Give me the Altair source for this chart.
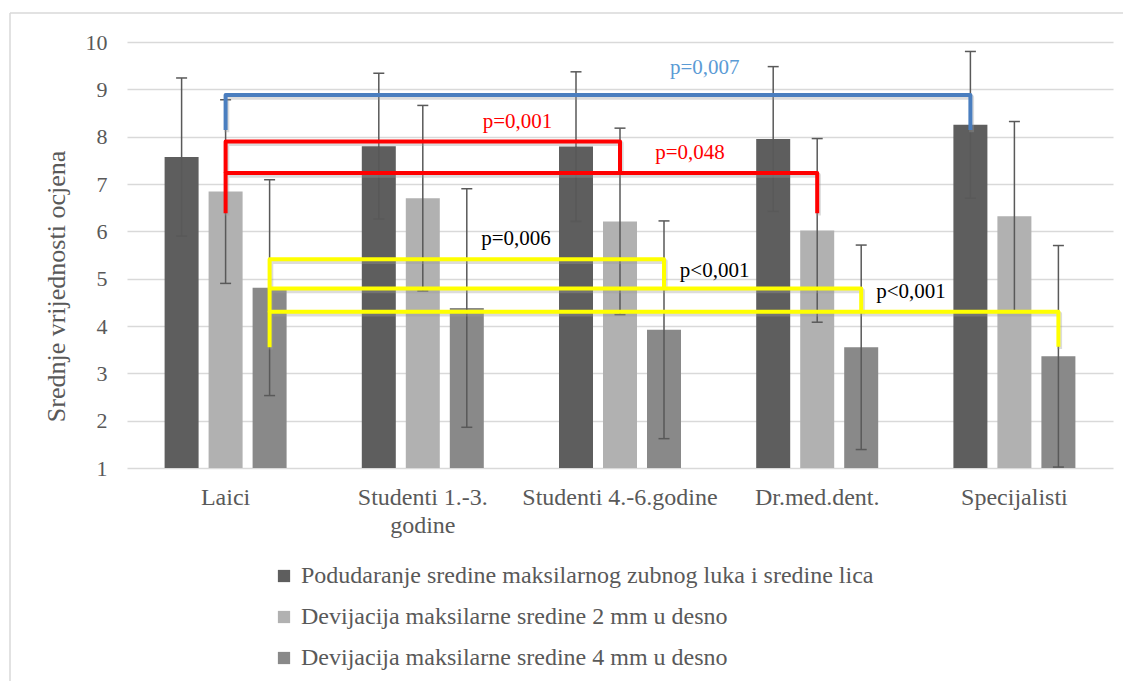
import altair as alt
import pandas as pd

# ---------------- data ----------------
categories = ["Laici", "Studenti 1.-3. godine", "Studenti 4.-6.godine", "Dr.med.dent.", "Specijalisti"]
tick_labels = ["Laici", "Studenti 1.-3.\ngodine", "Studenti 4.-6.godine", "Dr.med.dent.", "Specijalisti"]
series = [
    "Podudaranje sredine maksilarnog  zubnog luka i sredine lica",
    "Devijacija maksilarne sredine 2 mm u desno",
    "Devijacija maksilarne sredine 4 mm u desno",
]
mean_match = [7.57, 7.80, 7.79, 7.95, 8.25]
mean_dev2 = [6.84, 6.70, 6.21, 6.02, 6.32]
mean_dev4 = [4.81, 4.38, 3.92, 3.55, 3.36]
sd_match = [1.67, 1.54, 1.58, 1.53, 1.55]
sd_dev2 = [1.94, 1.96, 1.97, 1.94, 2.00]
sd_dev4 = [2.28, 2.52, 2.30, 2.16, 2.34]

# significance brackets: (cat, series) start, (cat, series) end, y left, y top, y right
bracket_from = [(0, 1), (0, 1), (0, 1), (0, 2), (0, 2), (0, 2)]
bracket_to = [(4, 0), (2, 1), (3, 1), (2, 2), (3, 2), (4, 2)]
bracket_y_left = [8.14, 7.23, 6.38, 4.79, 4.29, 3.55]
bracket_y_top = [8.88, 7.90, 7.23, 5.41, 4.79, 4.30]
bracket_y_right = [8.14, 7.23, 6.38, 4.79, 4.29, 3.56]
bracket_color = ["#4a7ebf", "#ff0000", "#ff0000", "#ffff00", "#ffff00", "#ffff00"]

p_text = ["p=0,007", "p=0,001", "p=0,048", "p=0,006", "p<0,001", "p<0,001"]
p_x = [2.93, 1.98, 2.855, 1.973, 2.98, 3.976]
p_y = [9.45, 8.31, 7.65, 5.83, 5.17, 4.71]
p_color = ["#5b9bd5", "#ff0000", "#ff0000", "#000000", "#000000", "#000000"]

colors = ["#5e5e5e", "#b1b1b1", "#898989"]

# ---------------- layout ----------------
W, H = 986, 426
BAND = W / len(categories)
STEP = 44 / BAND
HALF = 17 / BAND
CAP = 5.5 / BAND
FONT = "Liberation Serif"
GREY = "#595959"

means = [mean_match, mean_dev2, mean_dev4]
sds = [sd_match, sd_dev2, sd_dev4]


def pos(i, j):
    return i + 0.5 + (j - 1) * STEP


rows = []
for i, c in enumerate(categories):
    for j, s in enumerate(series):
        m, sd = means[j][i], sds[j][i]
        p = pos(i, j)
        rows.append(dict(cat=c, series=s, mean=m, lo=m - sd, hi=m + sd,
                         x=p - HALF, x2=p + HALF, xc=p, c1=p - CAP, c2=p + CAP))
bars_df = pd.DataFrame(rows)

lines = []
for k in range(len(bracket_from)):
    xa = pos(*bracket_from[k])
    xb = pos(*bracket_to[k])
    pts = [(xa, bracket_y_left[k]), (xa, bracket_y_top[k]),
           (xb, bracket_y_top[k]), (xb, bracket_y_right[k])]
    for o, (px, py) in enumerate(pts):
        lines.append(dict(id=k, o=o, x=px, y=py, col=bracket_color[k]))
lines_df = pd.DataFrame(lines)
shadow_df = lines_df.assign(y=lines_df["y"] - 0.045, x=lines_df["x"] + 0.006)

ann_df = pd.DataFrame(dict(t=p_text, x=p_x, y=p_y, col=p_color))
cat_df = pd.DataFrame(dict(x=[i + 0.5 for i in range(len(categories))], t=tick_labels))

xs = alt.Scale(domain=[0, len(categories)], nice=False, zero=False)
ys = alt.Scale(domain=[1, 10], nice=False, zero=False)

yaxis = alt.Axis(
    values=list(range(1, 11)), format="d", labelFont=FONT, labelFontSize=22,
    labelColor=GREY, labelPadding=20, ticks=False, domain=False,
    gridColor="#d9d9d9", gridWidth=1.5,
    title="Srednje vrijednosti ocjena", titleFont=FONT, titleFontSize=26,
    titleColor=GREY, titleFontWeight="normal", titleX=-63, titleY=H / 2 + 31,
    titleAngle=-90, titleAlign="center", titleBaseline="alphabetic",
)

bars = alt.Chart(bars_df).mark_bar().encode(
    x=alt.X("x:Q", scale=xs, axis=None),
    x2="x2:Q",
    y=alt.Y("mean:Q", scale=ys, axis=yaxis),
    y2=alt.datum(1),
    color=alt.Color(
        "series:N",
        scale=alt.Scale(domain=series, range=colors),
        legend=alt.Legend(
            title=None, orient="none", legendX=145, legendY=522, direction="vertical",
            symbolType="square", symbolSize=150, symbolStrokeWidth=0,
            labelFont=FONT, labelFontSize=24, labelColor=GREY, labelLimit=900,
            labelOffset=5, rowPadding=17, padding=0,
        ),
    ),
)

err = alt.Chart(bars_df).mark_rule(color=GREY, strokeWidth=1.5).encode(
    x=alt.X("xc:Q", scale=xs), y=alt.Y("lo:Q", scale=ys), y2="hi:Q"
)
cap_hi = alt.Chart(bars_df).mark_rule(color=GREY, strokeWidth=1.5).encode(
    x=alt.X("c1:Q", scale=xs), x2="c2:Q", y=alt.Y("hi:Q", scale=ys)
)
cap_lo = alt.Chart(bars_df).mark_rule(color=GREY, strokeWidth=1.5).encode(
    x=alt.X("c1:Q", scale=xs), x2="c2:Q", y=alt.Y("lo:Q", scale=ys)
)

shadow = alt.Chart(shadow_df).mark_line(
    strokeWidth=5, color="#9a9a9a", opacity=0.35, strokeJoin="round"
).encode(
    x=alt.X("x:Q", scale=xs), y=alt.Y("y:Q", scale=ys),
    detail="id:N", order="o:Q",
)
brackets = alt.Chart(lines_df).mark_line(strokeWidth=4, strokeJoin="round").encode(
    x=alt.X("x:Q", scale=xs), y=alt.Y("y:Q", scale=ys),
    detail="id:N", order="o:Q",
    stroke=alt.Stroke("col:N", scale=None, legend=None),
)

ann = alt.Chart(ann_df).mark_text(font=FONT, fontSize=21, baseline="middle", align="center").encode(
    x=alt.X("x:Q", scale=xs), y=alt.Y("y:Q", scale=ys), text="t:N",
    fill=alt.Fill("col:N", scale=None, legend=None),
)

cat_text = alt.Chart(cat_df).mark_text(
    font=FONT, fontSize=24, color=GREY, baseline="alphabetic", align="center",
    lineBreak="\n", lineHeight=28,
).encode(x=alt.X("x:Q", scale=xs), y=alt.value(H + 37), text="t:N")

frame_top = alt.Chart(alt.Data(values=[{}])).mark_rule(color="#d9d9d9", strokeWidth=1.5).encode(
    x=alt.value(-117), x2=alt.value(W + 30), y=alt.value(-29)
)
frame_left = alt.Chart(alt.Data(values=[{}])).mark_rule(color="#d9d9d9", strokeWidth=1.5).encode(
    x=alt.value(-117), y=alt.value(-29), y2=alt.value(H + 260)
)

chart = alt.layer(
    frame_top, frame_left, bars, err, cap_hi, cap_lo, shadow, brackets, ann, cat_text
).properties(
    width=W, height=H,
    padding={"left": 119, "top": 34, "right": 10, "bottom": 213},
    autosize=alt.AutoSizeParams(type="none"),
    background="white",
).configure_view(strokeWidth=0)

chart.save("out.html", embed_options={"renderer": "svg", "actions": False})
